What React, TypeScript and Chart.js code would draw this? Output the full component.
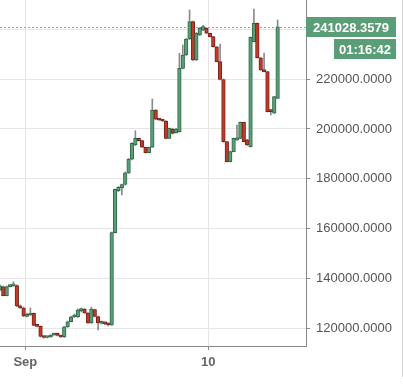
import React, { useEffect, useRef } from "react";
import { Chart, registerables } from "chart.js";

Chart.register(...registerables);

// 4-hour candles (open time, MM-DD HH:mm)
const candleTimes = [
  "08-30 16:00", "08-30 20:00",
  "08-31 00:00", "08-31 04:00", "08-31 08:00", "08-31 12:00", "08-31 16:00", "08-31 20:00",
  "09-01 00:00", "09-01 04:00", "09-01 08:00", "09-01 12:00", "09-01 16:00", "09-01 20:00",
  "09-02 00:00", "09-02 04:00", "09-02 08:00", "09-02 12:00", "09-02 16:00", "09-02 20:00",
  "09-03 00:00", "09-03 04:00", "09-03 08:00", "09-03 12:00", "09-03 16:00", "09-03 20:00",
  "09-04 00:00", "09-04 04:00", "09-04 08:00", "09-04 12:00", "09-04 16:00", "09-04 20:00",
  "09-05 00:00", "09-05 04:00", "09-05 08:00", "09-05 12:00", "09-05 16:00", "09-05 20:00",
  "09-06 00:00", "09-06 04:00", "09-06 08:00", "09-06 12:00", "09-06 16:00", "09-06 20:00",
  "09-07 00:00", "09-07 04:00", "09-07 08:00", "09-07 12:00", "09-07 16:00", "09-07 20:00",
  "09-08 00:00", "09-08 04:00", "09-08 08:00", "09-08 12:00", "09-08 16:00", "09-08 20:00",
  "09-09 00:00", "09-09 04:00", "09-09 08:00", "09-09 12:00", "09-09 16:00", "09-09 20:00",
  "09-10 00:00", "09-10 04:00", "09-10 08:00", "09-10 12:00", "09-10 16:00", "09-10 20:00",
  "09-11 00:00", "09-11 04:00", "09-11 08:00", "09-11 12:00", "09-11 16:00", "09-11 20:00",
  "09-12 00:00", "09-12 04:00", "09-12 08:00", "09-12 12:00", "09-12 16:00", "09-12 20:00",
  "09-13 00:00", "09-13 04:00", "09-13 08:00",
];

const opens = [
  135400, 136600,
  133100, 136700, 137000, 137100, 129000, 128150,
  124750, 125350, 126050, 121200, 120750, 116700,
  116300, 116500, 117300, 118000, 117100, 116500,
  120550, 122650, 124550, 124550, 126950, 127750,
  126150, 122150, 127550, 124750, 122000, 122350,
  121750, 121350, 158400, 175250, 176300, 177700,
  182350, 187850, 193550, 196250, 195300, 192650,
  190500, 192650, 207600, 203900, 203600, 203200,
  196250, 200000, 198500, 198900, 224350, 229700,
  236100, 243050, 227700, 237700, 239700, 240400,
  238400, 237050, 233000, 227000, 219850, 194900,
  186850, 190900, 195600, 196250, 202700, 195600,
  192900, 235000, 242400, 228600, 223650, 223000,
  207600, 206300, 212300,
];

const highs = [
  137400, 137000,
  137000, 137400, 138700, 137400, 129350, 128550,
  126150, 128150, 126150, 121350, 120950, 116900,
  116700, 117500, 118100, 118100, 117300, 120750,
  122950, 124950, 125750, 127750, 128150, 127950,
  126350, 128550, 127750, 124950, 122950, 122550,
  122150, 158650, 175900, 176900, 177900, 182750,
  188150, 194550, 199300, 196350, 195400, 192750,
  192750, 212050, 207800, 204200, 203800, 203400,
  200400, 200300, 200300, 230350, 233700, 236300,
  247750, 243350, 238700, 240700, 241550, 240700,
  238500, 237100, 233100, 234100, 220050, 194950,
  191150, 196350, 201600, 202800, 202800, 195800,
  236900, 248150, 242550, 228700, 230500, 223050,
  207800, 213050, 243750,
];

const lows = [
  135000, 133000,
  133000, 136600, 136800, 128700, 127950, 124650,
  124550, 125150, 121050, 120550, 116500, 116000,
  116100, 116400, 117100, 116900, 116300, 116300,
  120400, 122550, 124350, 124350, 126550, 125950,
  121950, 121950, 124550, 119350, 121750, 121350,
  120950, 121150, 158250, 174900, 173500, 177500,
  182150, 187550, 193350, 195150, 192550, 190350,
  190350, 192550, 203700, 203400, 203000, 196050,
  196050, 198000, 198400, 198750, 224150, 229500,
  235900, 227450, 227450, 237500, 239500, 238200,
  236900, 232900, 226900, 219650, 194750, 186750,
  186750, 190800, 195400, 196050, 194750, 193350,
  192750, 234900, 228450, 223450, 222850, 206800,
  205600, 206200, 212200,
];

const closes = [
  137000, 133100,
  136700, 137000, 137100, 129000, 128150, 124950,
  125650, 126050, 121200, 120750, 116700, 116300,
  116500, 117300, 118000, 117100, 116500, 120550,
  122650, 124550, 124750, 127350, 127950, 126150,
  122150, 127750, 124750, 122150, 122650, 121750,
  121350, 158400, 175800, 176600, 177700, 182350,
  187850, 194250, 196250, 195300, 192650, 190500,
  192650, 207600, 203900, 203600, 203200, 196250,
  200250, 198250, 200000, 224350, 229700, 236100,
  243050, 227700, 238400, 240500, 241100, 238400,
  237050, 233000, 227000, 219850, 194900, 186850,
  190900, 196250, 196250, 202700, 194900, 193550,
  236800, 242400, 228600, 223650, 223000, 206950,
  206950, 212950, 241028.3579,
];

const yTickValues = [120000, 140000, 160000, 180000, 200000, 220000, 240000];
const xTickDates = ["09-01 00:00", "09-10 00:00"];
const xTickLabels = ["Sep", "10"];
const lastPriceLabel = "241028.3579";
const countdownLabel = "01:16:42";
const candleHours = 4;

const GREEN = "#5a9e78";
const GREEN_EDGE = "#2e6a49";
const RED = "#c03a2b";
const RED_EDGE = "#7a2118";
const WICK = "#8a8a8a";
const FONT = "'Liberation Sans', Arial, sans-serif";

function toHours(s: string): number {
  const [md, hm] = s.split(" ");
  const [m, d] = md.split("-").map(Number);
  const [hh, mm] = hm.split(":").map(Number);
  return (Date.UTC(2018, m - 1, d, hh, mm) - Date.UTC(2018, 8, 1, 0, 0)) / 3600000;
}

export default function App() {
  const ref = useRef<HTMLCanvasElement>(null);

  useEffect(() => {
    const xs = candleTimes.map((t) => toHours(t) + candleHours / 2);
    const up = opens.map((o, i) => closes[i] >= o);
    const bodies = xs.map((x, i) => ({ x, y: [opens[i], closes[i]] }));
    const wicks = xs.map((x, i) => ({ x, y: [lows[i], highs[i]] }));
    const xTickHours = xTickDates.map(toHours);
    const lastClose = closes[closes.length - 1];

    const overlay = {
      id: "overlay",
      beforeDatasetsDraw(chart: any) {
        const { ctx, chartArea } = chart;
        const y = Math.round(chart.scales.y.getPixelForValue(lastClose)) + 0.5;
        ctx.save();
        ctx.strokeStyle = "#62c08e";
        ctx.lineWidth = 1;
        ctx.setLineDash([2, 2]);
        ctx.beginPath();
        ctx.moveTo(chartArea.left, y);
        ctx.lineTo(chartArea.right, y);
        ctx.stroke();
        ctx.restore();
      },
      afterDraw(chart: any) {
        const { ctx, chartArea } = chart;
        const y = chart.scales.y.getPixelForValue(lastClose);
        const r = chartArea.right;
        ctx.save();
        ctx.fillStyle = GREEN;
        ctx.fillRect(r, Math.round(y - 10), 90, 20);
        ctx.fillStyle = "#ffffff";
        ctx.font = "bold 13px " + FONT;
        ctx.textAlign = "center";
        ctx.textBaseline = "middle";
        ctx.fillText(lastPriceLabel, r + 45, Math.round(y) + 1);
        ctx.fillStyle = GREEN;
        ctx.fillRect(r + 28, Math.round(y + 12.5), 62, 20);
        ctx.fillStyle = "#ffffff";
        ctx.fillText(countdownLabel, r + 59, Math.round(y + 22.5) + 1);
        ctx.strokeStyle = "#d4d4d4";
        ctx.lineWidth = 1;
        ctx.beginPath();
        ctx.moveTo(402.5, 0);
        ctx.lineTo(402.5, 377);
        ctx.stroke();
        ctx.restore();
      },
    };

    const chart = new Chart(ref.current!, {
      type: "bar",
      data: {
        datasets: [
          {
            data: bodies as any,
            backgroundColor: up.map((u) => (u ? GREEN : RED)),
            borderColor: up.map((u) => (u ? GREEN_EDGE : RED_EDGE)),
            borderWidth: 1,
            borderSkipped: false,
            barThickness: 3.6,
            minBarLength: 2,
            grouped: false,
            order: 0,
          } as any,
          {
            data: wicks as any,
            backgroundColor: WICK,
            borderWidth: 0,
            barThickness: 1,
            grouped: false,
            order: 1,
          } as any,
        ],
      },
      plugins: [overlay],
      options: {
        animation: false,
        responsive: false,
        events: [],
        layout: { padding: 0 },
        plugins: { legend: { display: false }, tooltip: { enabled: false } },
        scales: {
          x: {
            type: "linear",
            min: -29.88,
            max: 331.5,
            offset: false,
            afterBuildTicks: (scale: any) => {
              scale.ticks = xTickHours.map((v) => ({ value: v }));
            },
            afterFit: (scale: any) => {
              scale.height = 44;
              scale.paddingLeft = 0;
              scale.paddingRight = 0;
            },
            grid: {
              offset: false,
              color: "#e6e6e6",
              tickColor: "#888888",
              tickLength: 4,
            },
            border: { display: true, color: "#888888" },
            ticks: {
              autoSkip: false,
              maxRotation: 0,
              padding: 5,
              color: "#666666",
              font: { family: FONT, size: 13, weight: "bold" },
              callback: (v: any) => {
                const i = xTickHours.indexOf(Number(v));
                return i >= 0 ? xTickLabels[i] : "";
              },
            },
          },
          y: {
            type: "linear",
            position: "right",
            min: 112900,
            max: 251760,
            afterBuildTicks: (scale: any) => {
              scale.ticks = yTickValues.map((v) => ({ value: v }));
            },
            afterFit: (scale: any) => {
              scale.width = 97;
              scale.paddingTop = 0;
              scale.paddingBottom = 0;
            },
            grid: {
              color: "#e6e6e6",
              tickColor: "#888888",
              tickLength: 4,
            },
            border: { display: true, color: "#888888" },
            ticks: {
              padding: 6,
              color: "#555555",
              font: { family: FONT, size: 13 },
              callback: (v: any) => (Number(v) === 240000 ? "" : Number(v).toFixed(4)),
            },
          },
        },
      } as any,
    });
    return () => chart.destroy();
  }, []);

  return (
    <div style={{ position: "absolute", left: 0, top: 0, width: 403, height: 390, background: "#ffffff" }}>
      <canvas ref={ref} width={403} height={390} style={{ display: "block" }} />
    </div>
  );
}
